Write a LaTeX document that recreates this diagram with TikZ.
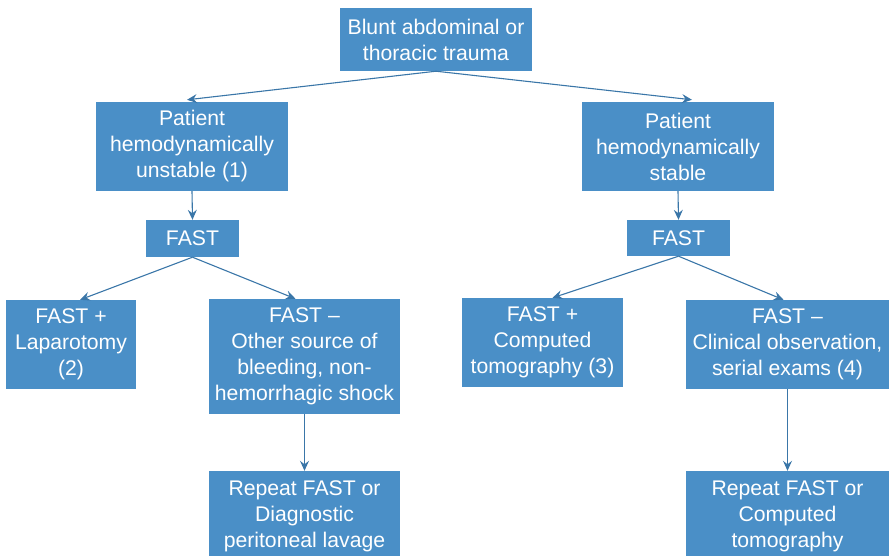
\documentclass[tikz,border=0pt]{standalone}
\usepackage{fontspec}
\setmainfont{Liberation Sans}
\usetikzlibrary{arrows.meta}
\definecolor{boxblue}{HTML}{4A8FC7}
\definecolor{lineblue}{HTML}{3A76A8}
\begin{document}
\begin{tikzpicture}[x=1pt,y=-1pt,
  box/.style={fill=boxblue, draw=none, text=white, inner sep=0pt, align=center,
    font=\fontsize{21.2}{26}\selectfont},
  conn/.style={draw=lineblue, line width=1.1pt,
    -{Stealth[length=10pt,width=9pt,inset=3.5pt]}}]
\useasboundingbox (0,0) rectangle (889,555);
\clip (0,0) rectangle (889,555);
\node[box, minimum width=192pt, minimum height=63pt] (top) at (436,39.5) {Blunt abdominal or\\thoracic trauma};
\node[box, minimum width=192pt, minimum height=89pt] (lp) at (192,146.5) {Patient\\hemodynamically\\unstable (1)};
\node[box, minimum width=192pt, minimum height=89pt] (rp) at (678,146.5) {Patient\\hemodynamically\\stable};
\node[box, minimum width=93pt, minimum height=37pt] (fl) at (192.5,238.5) {FAST};
\node[box, minimum width=103pt, minimum height=36pt] (fr) at (678.5,238) {FAST};
\node[box, minimum width=130pt, minimum height=89pt] (a) at (71,344.5) {FAST +\\Laparotomy\\(2)};
\node[box, minimum width=191pt, minimum height=115pt] (b) at (304.5,356.5) {FAST --\\Other source of\\bleeding, non-\\hemorrhagic shock};
\node[box, minimum width=161pt, minimum height=89pt] (c) at (542.5,342.5) {FAST +\\Computed\\tomography (3)};
\node[box, minimum width=203pt, minimum height=89pt] (d) at (787.5,344.5) {FAST --\\Clinical observation,\\serial exams (4)};
\node[box, minimum width=191pt, minimum height=90pt] (e) at (304.5,516) {Repeat FAST or\\Diagnostic\\peritoneal lavage};
\node[box, minimum width=203pt, minimum height=90pt] (f) at (787.5,516) {Repeat FAST or\\Computed\\tomography};
\draw[conn] (top.south) -- ([xshift=-5pt,yshift=2pt]lp.north);
\draw[conn] (top.south) -- ([xshift=14pt,yshift=2pt]rp.north);
\draw[conn] (lp.south) -- (fl.north);
\draw[conn] (rp.south) -- (fr.north);
\draw[conn] (fl.south) -- ([xshift=9pt]a.north);
\draw[conn] (fl.south) -- ([xshift=-9pt]b.north);
\draw[conn] (fr.south) -- ([xshift=10pt]c.north);
\draw[conn] (fr.south) -- ([xshift=-4pt]d.north);
\draw[conn] (b.south) -- (e.north);
\draw[conn] (d.south) -- (f.north);
\end{tikzpicture}
\end{document}
